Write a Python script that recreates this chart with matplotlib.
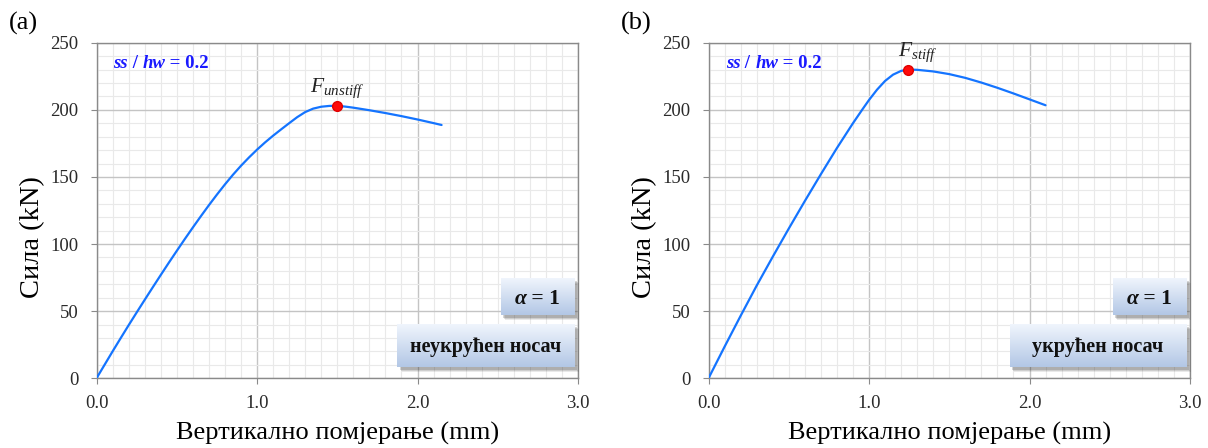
import numpy as np
import matplotlib
matplotlib.use("Agg")
import matplotlib.pyplot as plt
from matplotlib.ticker import MultipleLocator, FormatStrFormatter
from matplotlib.patches import Rectangle

plt.rcParams['font.family'] = ['Liberation Serif', 'DejaVu Serif']
plt.rcParams['mathtext.fontset'] = 'custom'
plt.rcParams['mathtext.it'] = 'Liberation Serif:italic'
plt.rcParams['mathtext.rm'] = 'Liberation Serif'

# ---- data ----
disp_unstiff = [0.00, 0.05, 0.10, 0.15, 0.20, 0.25, 0.30, 0.35, 0.40, 0.45, 0.50, 0.55, 0.60,
                0.65, 0.70, 0.75, 0.80, 0.85, 0.90, 0.95, 1.00, 1.05, 1.10, 1.15, 1.20, 1.25,
                1.30, 1.35, 1.40, 1.45, 1.50, 1.55, 1.60, 1.70, 1.80, 1.90, 2.00, 2.10, 2.15]
force_unstiff = [0, 10, 20, 29.8, 39.5, 49, 58.4, 67.7, 76.9, 86, 94.9, 103.7, 112.3,
                 120.7, 128.9, 136.8, 144.4, 151.6, 158.3, 164.5, 170.3, 175.7, 180.7, 185.4, 190, 194.5,
                 198.3, 200.9, 202.3, 202.9, 203, 202.4, 201.6, 199.7, 197.6, 195.3, 192.8, 190.1, 188.7]
peak_unstiff = (1.50, 203)

disp_stiff = [0.00, 0.10, 0.20, 0.30, 0.40, 0.50, 0.60, 0.70, 0.80, 0.90, 0.96, 1.00, 1.05,
              1.10, 1.15, 1.20, 1.245, 1.30, 1.40, 1.50, 1.60, 1.70, 1.80, 1.90, 2.00, 2.10]
force_stiff = [0, 23.5, 46.5, 69, 90.5, 111.5, 132, 152, 171.5, 190, 200.5, 207.3, 215,
               221.5, 226.2, 229, 230, 229.8, 228.6, 226.6, 223.8, 220.3, 216.4, 212.2, 207.8, 203.4]
peak_stiff = (1.245, 230)

panel_letters = ['(a)', '(b)']
peak_labels = [r'$F_{unstiff}$', r'$F_{stiff}$']
case_labels = ['неукрућен носач', 'укрућен носач']
xlabel = 'Вертикално помјерање (mm)'
ylabel = 'Сила (kN)'

W, H = 1208, 448
fig = plt.figure(figsize=(W / 100, H / 100), dpi=100)

def fx(px):
    return px / W

def fy(py):
    return 1 - py / H

line_color = '#1474ff'
blue_txt = '#1a1aff'

panels = [
    dict(left=96.5, data=(disp_unstiff, force_unstiff), peak=peak_unstiff,
         lab_off=(0.0, 4.5), ss_x=113, letter_x=9),
    dict(left=708.5, data=(disp_stiff, force_stiff), peak=peak_stiff,
         lab_off=(0.058, 4.0), ss_x=726, letter_x=621),
]

ax_w = 481.5
top, bottom = 42.7, 378.3

for i, p in enumerate(panels):
    ax = fig.add_axes([fx(p['left']), fy(bottom), ax_w / W, (bottom - top) / H])
    ax.set_xlim(0, 3.0)
    ax.set_ylim(0, 250)
    ax.xaxis.set_major_locator(MultipleLocator(1.0))
    ax.xaxis.set_minor_locator(MultipleLocator(0.1))
    ax.yaxis.set_major_locator(MultipleLocator(50))
    ax.yaxis.set_minor_locator(MultipleLocator(10))
    ax.xaxis.set_major_formatter(FormatStrFormatter('%.1f'))
    ax.grid(which='major', color='#c4c4c4', lw=1.0, zorder=0)
    ax.grid(which='minor', color='#e9e9e9', lw=0.8, zorder=0)
    ax.set_axisbelow(True)
    for s in ax.spines.values():
        s.set_color('#8a8a8a')
        s.set_linewidth(1.0)
    ax.tick_params(which='major', length=4, color='#8a8a8a', labelsize=13.5,
                   labelcolor='#2a2a2a', direction='out')
    ax.tick_params(axis='x', pad=8)
    ax.tick_params(axis='y', pad=9)
    ax.tick_params(which='minor', length=0)

    xs, ys = p['data']
    ax.plot(xs, ys, color=line_color, lw=1.6, zorder=3, solid_capstyle='round',
            solid_joinstyle='round')
    px_, py_ = p['peak']
    ax.plot([px_], [py_], 'o', color='#ff0a0a', mec='#e00000', ms=7, zorder=4)
    ax.text(px_ + p['lab_off'][0], py_ + p['lab_off'][1], peak_labels[i],
            ha='center', va='bottom', fontsize=15.5, color='#222222', zorder=5)

    ax.set_xlabel(xlabel, fontsize=19, labelpad=7.5)
    ax.set_ylabel(ylabel, fontsize=20.5)
    ax.yaxis.set_label_coords(-0.106, 0.421)

    # ss / hw = 0.2
    t1 = fig.text(fx(p['ss_x']), fy(67.5), 'ss', color=blue_txt, fontsize=13.5,
                  fontweight='bold', fontstyle='italic', va='baseline')
    ann = ax.annotate(' / ', xy=(1, 0), xycoords=t1, va='bottom', ha='left',
                      color=blue_txt, fontsize=13.5, fontweight='bold')
    ann2 = ax.annotate('hw', xy=(1, 0), xycoords=ann, va='bottom', ha='left',
                       color=blue_txt, fontsize=13.5, fontweight='bold', fontstyle='italic')
    ax.annotate(' = 0.2', xy=(1, 0), xycoords=ann2, va='bottom', ha='left',
                color=blue_txt, fontsize=13.5, fontweight='bold')

    fig.text(fx(p['letter_x']), fy(30), panel_letters[i], fontsize=19, va='baseline', ha='left')

    # boxes
    right = p['left'] + ax_w - 3.5
    boxes = [((right - 74, 278, right, 315), 'alpha'),
             ((right - 177, 324, right, 367), case_labels[i])]
    grad = np.linspace(0, 1, 64)
    c_top = np.array([0.94, 0.96, 0.99])
    c_bot = np.array([0.70, 0.78, 0.90])
    img = (c_top[None, :] * (1 - grad[:, None]) + c_bot[None, :] * grad[:, None]).reshape(64, 1, 3)
    for (x0, y0, x1, y1), lab in boxes:
        # shadow
        for k, a in zip([4.5, 3.5, 2.5], [0.10, 0.14, 0.2]):
            sh = Rectangle((fx(x0 + k), fy(y1 + k)), (x1 - x0) / W, (y1 - y0) / H,
                           transform=fig.transFigure, facecolor='#303030', alpha=a,
                           edgecolor='none', zorder=5)
            fig.add_artist(sh)
        bax = fig.add_axes([fx(x0), fy(y1), (x1 - x0) / W, (y1 - y0) / H], zorder=6)
        bax.imshow(img, aspect='auto', extent=[0, 1, 0, 1], origin='upper', interpolation='bilinear')
        bax.set_xlim(0, 1)
        bax.set_ylim(0, 1)
        bax.axis('off')
        if lab == 'alpha':
            ta = bax.text(0.19, 0.44, 'α', fontsize=15.5, fontweight='bold', fontstyle='italic',
                          ha='left', va='center', color='#111111')
            bax.annotate(' = 1', xy=(1, 0), xycoords=ta, va='bottom', ha='left',
                         fontsize=15.5, fontweight='bold', color='#111111')
        else:
            bax.text(0.5, 0.46, lab, fontsize=14.5, fontweight='bold', ha='center',
                     va='center', color='#111111')

fig.savefig('out.png', dpi=100)
